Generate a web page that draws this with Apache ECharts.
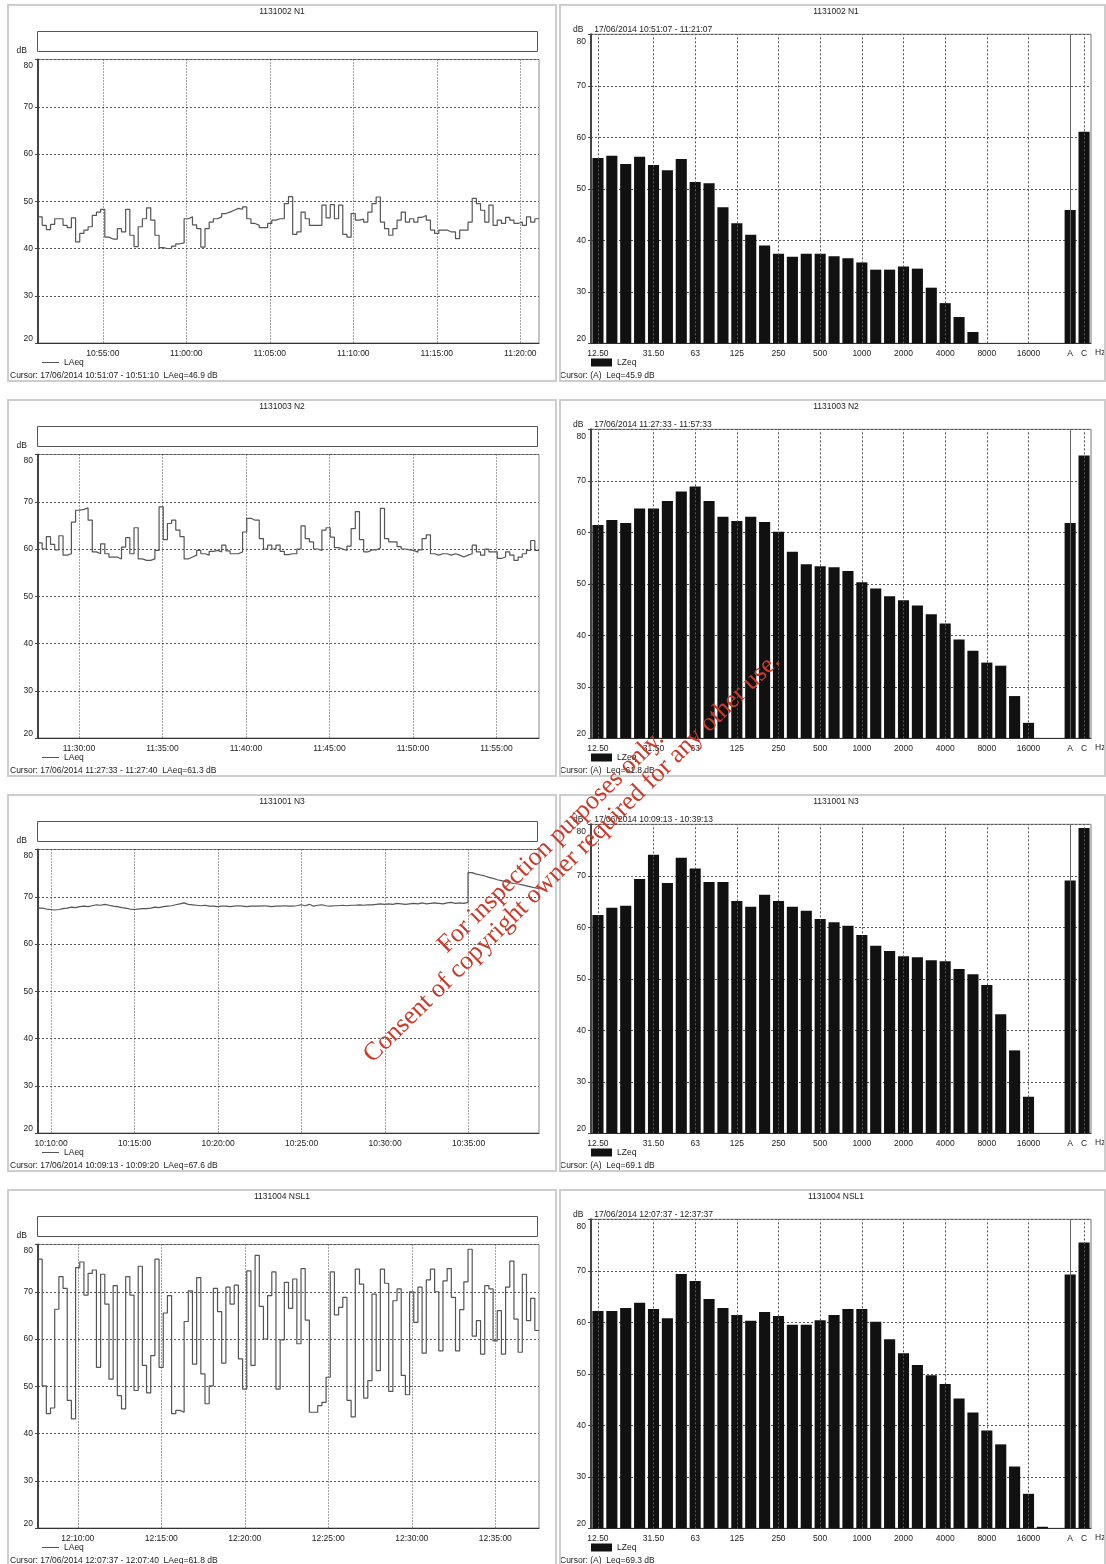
<!DOCTYPE html>
<html>
<head>
<meta charset="utf-8">
<script src="https://cdn.jsdelivr.net/npm/echarts@6/dist/echarts.min.js"></script>
<style>
  body { margin: 0; background: #fff; width: 1106px; height: 1564px; position: relative; overflow: hidden; }
  .panel { position: absolute; box-sizing: border-box; border: 2px solid #cdcdcd; background: #fff; }
  .panel .chart { position: absolute; left: 0; top: 0; right: 0; bottom: 0; }
  #mark { position: absolute; left: 0; top: 0; width: 1106px; height: 1564px; pointer-events: none; }
</style>
</head>
<body>
<div id="mark"></div>
<script>
// ---- texts ----
const titles = ['1131002 N1', '1131003 N2', '1131001 N3', '1131004 NSL1'];
const startTimes = ['10:51:07', '11:27:33', '10:09:13', '12:07:37'];
const timeTickLabels = [
  ['10:55:00', '11:00:00', '11:05:00', '11:10:00', '11:15:00', '11:20:00'],
  ['11:30:00', '11:35:00', '11:40:00', '11:45:00', '11:50:00', '11:55:00'],
  ['10:10:00', '10:15:00', '10:20:00', '10:25:00', '10:30:00', '10:35:00'],
  ['12:10:00', '12:15:00', '12:20:00', '12:25:00', '12:30:00', '12:35:00']
];
const rangeTexts = [
  '17/06/2014 10:51:07 - 11:21:07',
  '17/06/2014 11:27:33 - 11:57:33',
  '17/06/2014 10:09:13 - 10:39:13',
  '17/06/2014 12:07:37 - 12:37:37'
];
const cursorLeft = [
  'Cursor: 17/06/2014 10:51:07 - 10:51:10  LAeq=46.9 dB',
  'Cursor: 17/06/2014 11:27:33 - 11:27:40  LAeq=61.3 dB',
  'Cursor: 17/06/2014 10:09:13 - 10:09:20  LAeq=67.6 dB',
  'Cursor: 17/06/2014 12:07:37 - 12:07:40  LAeq=61.8 dB'
];
const cursorRight = [
  'Cursor: (A)  Leq=45.9 dB',
  'Cursor: (A)  Leq=61.8 dB',
  'Cursor: (A)  Leq=69.1 dB',
  'Cursor: (A)  Leq=69.3 dB'
];

// ---- time histories (LAeq, one value every stepSec seconds) ----
const stepSec = 15;
const n1Laeq = [46.7, 44.9, 44.0, 45.1, 46.3, 46.3, 44.9, 44.4, 46.5, 41.4,
  43.2, 43.9, 44.6, 47.0, 47.7, 48.3, 42.4, 42.0, 42.0, 44.2,
  43.5, 48.3, 42.8, 40.4, 44.6, 46.3, 48.6, 46.0, 42.8, 40.2,
  40.0, 40.0, 40.5, 41.0, 41.2, 46.3, 46.7, 45.0, 44.2, 40.3,
  44.2, 45.6, 46.3, 46.7, 47.4, 47.7, 48.1, 48.5, 48.3, 48.8,
  46.3, 45.3, 44.9, 44.4, 44.4, 45.3, 46.0, 46.3, 46.3, 49.5,
  51.0, 43.0, 43.5, 47.7, 46.3, 44.9, 44.9, 44.9, 49.2, 46.5,
  49.3, 46.3, 49.2, 43.0, 42.4, 47.4, 46.0, 46.2, 45.6, 47.7,
  49.5, 50.9, 45.6, 44.2, 42.8, 44.2, 46.0, 47.7, 45.6, 46.3,
  45.6, 46.6, 47.0, 46.0, 43.9, 43.2, 43.9, 43.9, 43.5, 43.5,
  42.1, 43.9, 43.9, 45.6, 50.6, 49.5, 48.1, 45.6, 49.2, 44.9,
  46.0, 45.3, 46.6, 46.0, 45.3, 45.6, 44.9, 46.7, 45.6, 46.3];
const n2Laeq = [61.3, 60.0, 62.6, 61.0, 59.8, 62.8, 58.7, 59.0, 65.7, 68.2,
  68.4, 68.7, 66.1, 59.4, 59.0, 61.1, 59.0, 58.3, 58.3, 57.9,
  60.4, 62.4, 59.0, 64.5, 57.9, 57.6, 57.6, 57.9, 59.7, 68.9,
  62.0, 65.4, 66.1, 64.0, 62.6, 57.9, 58.3, 58.7, 59.7, 59.0,
  58.7, 59.5, 59.7, 59.4, 60.8, 59.6, 59.0, 59.0, 59.4, 63.6,
  66.5, 66.1, 66.1, 62.2, 60.0, 60.8, 60.0, 60.8, 59.5, 58.8,
  59.0, 59.0, 60.0, 64.9, 62.2, 61.5, 60.0, 59.7, 64.0, 64.5,
  62.5, 60.3, 60.0, 59.7, 60.6, 64.3, 67.9, 62.0, 59.4, 59.8,
  59.8, 60.2, 68.6, 62.2, 61.5, 61.5, 60.5, 60.0, 59.8, 59.7,
  59.3, 59.8, 62.2, 63.0, 59.0, 58.7, 59.0, 59.0, 58.7, 59.0,
  58.7, 58.3, 58.7, 59.0, 60.8, 59.4, 58.7, 60.0, 59.4, 59.4,
  58.0, 58.3, 59.4, 58.7, 57.6, 58.3, 59.0, 59.7, 61.8, 59.7];
const n3Laeq = [67.6, 67.4, 67.3, 67.2, 67.3, 67.5, 67.6, 67.8, 67.7, 67.9,
  68.0, 67.9, 68.1, 68.3, 68.2, 68.4, 68.2, 68.0, 67.9, 67.7,
  67.6, 67.4, 67.3, 67.4, 67.5, 67.5, 67.6, 67.8, 67.7, 67.9,
  68.0, 68.1, 68.3, 68.5, 68.7, 68.4, 68.3, 68.2, 68.1, 68.2,
  68.0, 68.0, 67.9, 68.0, 68.0, 67.9, 68.0, 68.1, 68.0, 67.9,
  68.0, 68.0, 68.0, 68.1, 68.0, 67.9, 68.0, 68.0, 68.1, 68.0,
  68.0, 68.1, 68.3, 68.1, 68.4, 68.0, 68.2, 68.3, 68.1, 68.0,
  68.1, 68.1, 68.2, 68.1, 68.2, 68.2, 68.3, 68.2, 68.3, 68.3,
  68.4, 68.5, 68.4, 68.5, 68.4, 68.6, 68.5, 68.4, 68.5, 68.6,
  68.5, 68.7, 68.5, 68.6, 68.7, 68.6, 68.5, 68.7, 68.8, 68.6,
  68.7, 68.6, 68.8, 75.1, 74.8, 74.6, 74.4, 74.1, 73.9, 73.6,
  73.4, 73.2, 73.0, 72.8, 72.7, 72.5, 72.3, 72.1, 71.9, 71.7];
const nsl1Laeq = [76.9, 50.1, 44.2, 45.4, 66.3, 73.2, 70.7, 47.0, 43.1, 75.1,
  76.3, 69.3, 73.9, 74.6, 54.0, 73.7, 67.4, 51.5, 71.3, 48.0,
  45.2, 73.2, 69.3, 49.1, 75.4, 54.4, 48.6, 56.5, 76.9, 54.0,
  65.5, 69.2, 44.2, 44.9, 44.5, 63.7, 70.2, 54.7, 73.0, 52.6,
  46.3, 50.1, 70.7, 65.8, 54.9, 71.0, 67.4, 71.4, 55.8, 49.4,
  74.4, 54.4, 77.7, 66.9, 60.0, 69.2, 74.2, 49.4, 59.8, 72.0,
  66.5, 72.7, 59.0, 74.9, 64.0, 44.5, 44.5, 45.9, 46.6, 51.9,
  74.2, 65.1, 66.7, 68.8, 47.0, 43.5, 74.8, 71.6, 47.5, 51.2,
  69.5, 53.3, 74.8, 71.8, 48.9, 68.1, 70.6, 52.3, 48.2, 70.0,
  63.5, 71.0, 57.0, 72.5, 74.8, 70.0, 57.5, 72.3, 74.9, 68.8,
  57.5, 66.2, 72.1, 79.0, 60.6, 63.9, 56.8, 71.3, 70.6, 59.6,
  66.0, 56.8, 71.0, 76.5, 64.2, 57.2, 73.7, 63.9, 68.6, 61.8];

// ---- 1/3 octave spectra (LZeq) ----
const bands = ['12.5', '16', '20', '25', '31.5', '40', '50', '63', '80', '100', '125', '160',
  '200', '250', '315', '400', '500', '630', '800', '1000', '1250', '1600', '2000', '2500',
  '3150', '4000', '5000', '6300', '8000', '10000', '12500', '16000', '20000'];
const bandTickLabels = { '12.5': '12.50', '31.5': '31.50', '63': '63', '125': '125', '250': '250',
  '500': '500', '1000': '1000', '2000': '2000', '4000': '4000', '8000': '8000', '16000': '16000',
  'A': 'A', 'C': 'C' };
const dashedGridBands = ['12.5', '31.5', '63', '125', '250', '500', '1000', '2000', '4000', '8000', '16000', 'C'];
const n1Lzeq = [56.0, 56.4, 54.8, 56.2, 54.6, 53.6, 55.8, 51.3, 51.1, 46.4, 43.3, 41.1, 39.0, 37.4, 36.8, 37.4,
  37.4, 36.9, 36.5, 35.7, 34.3, 34.3, 34.9, 34.5, 30.8, 27.8, 25.1, 22.2, null, null, null, null, null];
const n2Lzeq = [61.4, 62.4, 61.8, 64.6, 64.6, 66.1, 67.9, 68.9, 66.1, 63.0, 62.2, 63.0, 62.0, 60.1, 56.2, 53.8,
  53.4, 53.2, 52.5, 50.3, 49.1, 47.6, 46.8, 45.8, 44.1, 42.3, 39.2, 37.0, 34.7, 34.1, 28.2, 23.0, null];
const n3Lzeq = [62.4, 63.8, 64.2, 69.4, 74.1, 68.6, 73.5, 71.4, 68.8, 68.8, 65.1, 64.0, 66.3, 65.1, 64.0, 63.2,
  61.6, 61.0, 60.3, 58.5, 56.4, 55.4, 54.4, 54.2, 53.6, 53.4, 51.9, 50.9, 48.8, 43.1, 36.1, 27.1, null];
const nsl1Lzeq = [62.2, 62.2, 62.8, 63.8, 62.6, 60.8, 69.4, 68.0, 64.5, 62.8, 61.4, 60.3, 62.0, 61.2, 59.5, 59.5,
  60.4, 61.4, 62.6, 62.6, 60.1, 56.7, 54.0, 51.7, 49.7, 48.0, 45.2, 42.5, 39.0, 36.3, 32.0, 26.7, 20.3];
const aWeighted = [45.9, 61.8, 69.1, 69.3];
const cWeighted = [61.1, 74.9, 79.3, 75.5];

const laeqSeries = [n1Laeq, n2Laeq, n3Laeq, nsl1Laeq];
const lzeqSeries = [n1Lzeq, n2Lzeq, n3Lzeq, nsl1Lzeq];

const FONT = '"Liberation Sans", Arial, sans-serif';
const FS = 8.5;
const INK = '#222';
const ROW_PITCH = 395;

const pad = n => (n < 10 ? '0' : '') + n;
const fmtTime = v => {
  const d = new Date(v);
  return pad(d.getHours()) + ':' + pad(d.getMinutes()) + ':' + pad(d.getSeconds());
};
const toMs = hms => {
  const p = hms.split(':').map(Number);
  return new Date(2014, 5, 17, p[0], p[1], p[2]).getTime();
};

function txt(x, y, text, align) {
  return {
    type: 'text', x: x, y: y, silent: true,
    style: { text: text, fill: INK, fontSize: FS, fontFamily: FONT,
      align: align || 'left', verticalAlign: 'middle', textAlign: align || 'left', textVerticalAlign: 'middle' }
  };
}

function yAxisCfg(topShift, botShift) {
  const lab = { fontSize: FS, fontFamily: FONT, color: INK };
  return {
    type: 'value', min: 20, max: 80, interval: 10,
    axisLine: { show: true, lineStyle: { color: '#444', width: 2 } },
    axisTick: { show: true, length: 3, lineStyle: { color: '#444' } },
    splitLine: { show: true, lineStyle: { type: [2, 2], color: '#555', width: 1 } },
    axisLabel: {
      margin: 5,
      formatter: v => (v === 80 ? '{t|80}' : v === 20 ? '{b|20}' : '{m|' + v + '}'),
      rich: {
        t: Object.assign({ padding: [topShift * 2, 0, 0, 0] }, lab),
        b: Object.assign({ padding: [0, 0, botShift * 2, 0] }, lab),
        m: lab
      }
    }
  };
}

function lineOption(r) {
  const t0 = toMs(startTimes[r]);
  const ticks = timeTickLabels[r].map(toMs);
  const vals = laeqSeries[r];
  const pts = vals.map((v, i) => [t0 + i * stepSec * 1000, v]);
  pts.push([t0 + vals.length * stepSec * 1000, vals[vals.length - 1]]);
  return {
    animation: false,
    textStyle: { fontFamily: FONT },
    grid: { left: 29, top: 53.5, width: 501, height: 283.5, show: true, borderColor: '#888', borderWidth: 1 },
    xAxis: {
      type: 'value', min: t0, max: t0 + 1800000,
      axisLine: { lineStyle: { color: '#333' } },
      axisTick: { show: false, customValues: ticks },
      axisLabel: { fontSize: FS, fontFamily: FONT, color: INK, margin: 6, formatter: fmtTime,
        customValues: ticks },
      splitLine: { show: true, lineStyle: { type: [1, 2], color: '#444', width: 1 } }
    },
    yAxis: yAxisCfg(5.7, 4.7),
    legend: {
      data: ['LAeq'], left: 33, top: 352, icon: 'rect', itemWidth: 17, itemHeight: 1, itemGap: 4,
      textStyle: { fontSize: FS, fontFamily: FONT, color: INK }, padding: 0
    },
    graphic: [
      txt(273, 5.7, titles[r], 'center'),
      { type: 'rect', shape: { x: 28.5, y: 25.5, width: 500, height: 20 }, silent: true,
        style: { fill: '#fff', stroke: '#555', lineWidth: 1 } },
      txt(18, 45, 'dB', 'right'),
      txt(1, 370, cursorLeft[r])
    ],
    series: [{
      name: 'LAeq', type: 'line', step: 'end', symbol: 'none', showSymbol: false,
      data: pts, lineStyle: { color: '#555', width: 1.2 }, itemStyle: { color: '#555' }
    }]
  };
}

function barOption(r) {
  const cats = bands.concat(['gap', 'A', 'C']);
  const data = lzeqSeries[r].concat([null, aWeighted[r], cWeighted[r]]);
  const gridLines = dashedGridBands.map(c => ({ xAxis: c }));
  gridLines.push({ xAxis: 'A', lineStyle: { type: 'solid', color: '#666', width: 1 } });
  return {
    animation: false,
    textStyle: { fontFamily: FONT },
    grid: { left: 30, top: 28.3, width: 500, height: 309, show: true, borderColor: '#777', borderWidth: 1 },
    xAxis: {
      type: 'category', data: cats,
      axisTick: { show: false },
      axisLine: { lineStyle: { color: '#333' } },
      axisLabel: { interval: 0, fontSize: FS, fontFamily: FONT, color: INK, margin: 6,
        formatter: c => bandTickLabels[c] || '' },
      splitLine: { show: false }
    },
    yAxis: yAxisCfg(7, 4.5),
    legend: {
      data: ['LZeq'], left: 30, top: 352, icon: 'rect', itemWidth: 21, itemHeight: 8, itemGap: 4,
      textStyle: { fontSize: FS, fontFamily: FONT, color: INK }, padding: 0
    },
    graphic: [
      txt(275, 5.7, titles[r], 'center'),
      txt(12, 23.3, 'dB'),
      txt(33.3, 23.3, rangeTexts[r]),
      txt(534, 347, 'Hz'),
      txt(-1, 370, cursorRight[r])
    ],
    series: [
      {
        name: 'grid', type: 'line', data: [], z: 1, silent: true,
        markLine: { silent: true, symbol: 'none', animation: false, label: { show: false },
          lineStyle: { type: [2, 2], color: '#555', width: 1 }, data: gridLines }
      },
      {
        name: 'LZeq', type: 'bar', data: data, z: 3, barCategoryGap: '20%',
        itemStyle: { color: '#111' }
      }
    ]
  };
}

function makePanel(left, top, width, height) {
  const p = document.createElement('div');
  p.className = 'panel';
  p.style.left = left + 'px';
  p.style.top = top + 'px';
  p.style.width = width + 'px';
  p.style.height = height + 'px';
  const c = document.createElement('div');
  c.className = 'chart';
  p.appendChild(c);
  document.body.insertBefore(p, document.getElementById('mark'));
  return c;
}

for (let r = 0; r < 4; r++) {
  const top = 4 + r * ROW_PITCH;
  const lc = echarts.init(makePanel(7, top, 550, 378));
  lc.setOption(lineOption(r));
  const rc = echarts.init(makePanel(559, top, 547, 378));
  rc.setOption(barOption(r));
}

// watermark across the page
const mark = echarts.init(document.getElementById('mark'));
const wm = (x, y, text) => ({
  type: 'text', x: x, y: y, rotation: Math.PI * 44.5 / 180, silent: true,
  style: { text: text, fill: '#c93a2a', fontSize: 26, fontFamily: '"Liberation Serif", "Times New Roman", serif',
    align: 'center', verticalAlign: 'middle', textAlign: 'center', textVerticalAlign: 'middle' }
});
mark.setOption({
  animation: false,
  graphic: [
    wm(551, 842, 'For inspection purposes only.'),
    wm(572, 858, 'Consent of copyright owner required for any other use.')
  ]
});
</script>
</body>
</html>
